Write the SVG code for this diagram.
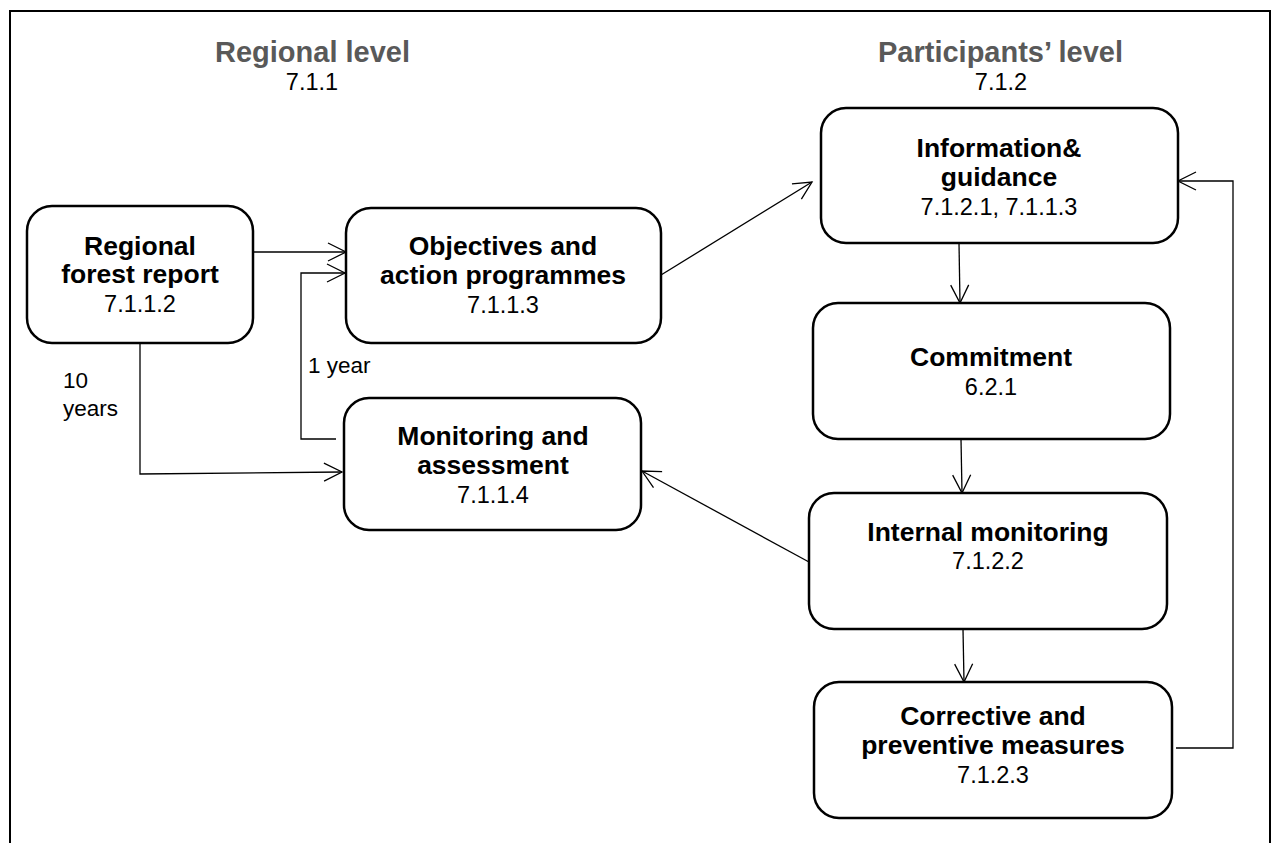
<svg xmlns="http://www.w3.org/2000/svg" width="1277" height="843" viewBox="0 0 1277 843">
  <style>
    .box { fill: #ffffff; stroke: #000000; stroke-width: 2.5; }
    .t { font-family: "Liberation Sans", Arial, sans-serif; font-size: 26.5px; font-weight: bold; fill: #000000; text-anchor: middle; }
    .n { font-family: "Liberation Sans", Arial, sans-serif; font-size: 23.5px; fill: #000000; text-anchor: middle; }
    .hd { font-family: "Liberation Sans", Arial, sans-serif; font-size: 29px; font-weight: bold; fill: #595959; text-anchor: middle; }
    .lbl { font-family: "Liberation Sans", Arial, sans-serif; font-size: 22.5px; fill: #000000; }
    .c { fill: none; stroke: #000000; stroke-width: 1.3; marker-end: url(#arr); }
  </style>
  <defs>
    <marker id="arr" viewBox="-20 -12 22 24" refX="0" refY="0" markerWidth="22" markerHeight="24" markerUnits="userSpaceOnUse" orient="auto">
      <path d="M-18,-9 L0,0 L-18,9" fill="none" stroke="#000000" stroke-width="1.3"/>
    </marker>
  </defs>
  <rect width="1277" height="843" fill="#ffffff"/>
  <path d="M10,843 V11 H1270 V843" fill="none" stroke="#000000" stroke-width="2"/>

  <g id="headers">
    <text class="hd" x="312.5" y="62">Regional level</text>
    <text class="n" x="312" y="90">7.1.1</text>
    <text class="hd" x="1000.5" y="62">Participants’ level</text>
    <text class="n" x="1001" y="90">7.1.2</text>
  </g>

  <g id="connectors">
    <path class="c" d="M253,252 H346"/>
    <path class="c" d="M336,439 H301 V273 H345"/>
    <path class="c" d="M140,343 V474 L342,472"/>
    <path class="c" d="M661,275 L812,182"/>
    <path class="c" d="M959,243 L960,303"/>
    <path class="c" d="M961,439 L962,493"/>
    <path class="c" d="M963,629 L964,682"/>
    <path class="c" d="M809,562 L642,471"/>
    <path class="c" d="M1176,748 H1233 V181 H1178" stroke="#333333"/>
    <text class="lbl" x="63" y="388">10</text>
    <text class="lbl" x="63" y="416">years</text>
    <text class="lbl" x="308" y="373">1 year</text>
  </g>

  <g id="regional-forest-report">
    <rect class="box" x="27" y="206" width="226" height="137" rx="25"/>
    <text class="t" x="140" y="255">Regional</text>
    <text class="t" x="140" y="283">forest report</text>
    <text class="n" x="140" y="312">7.1.1.2</text>
  </g>

  <g id="objectives">
    <rect class="box" x="346" y="208" width="315" height="135" rx="25"/>
    <text class="t" x="503" y="255">Objectives and</text>
    <text class="t" x="503" y="284">action programmes</text>
    <text class="n" x="503" y="313">7.1.1.3</text>
  </g>

  <g id="monitoring">
    <rect class="box" x="344" y="398" width="297" height="132" rx="25"/>
    <text class="t" x="493" y="445">Monitoring and</text>
    <text class="t" x="493" y="474">assessment</text>
    <text class="n" x="493" y="503">7.1.1.4</text>
  </g>

  <g id="information">
    <rect class="box" x="821" y="108" width="357" height="135" rx="25"/>
    <text class="t" x="999" y="157">Information&amp;</text>
    <text class="t" x="999" y="186">guidance</text>
    <text class="n" x="999" y="215">7.1.2.1, 7.1.1.3</text>
  </g>

  <g id="commitment">
    <rect class="box" x="813" y="303" width="357" height="136" rx="25"/>
    <text class="t" x="991" y="366">Commitment</text>
    <text class="n" x="991" y="395">6.2.1</text>
  </g>

  <g id="internal-monitoring">
    <rect class="box" x="809" y="493" width="358" height="136" rx="25"/>
    <text class="t" x="988" y="541">Internal monitoring</text>
    <text class="n" x="988" y="569">7.1.2.2</text>
  </g>

  <g id="corrective">
    <rect class="box" x="814" y="682" width="358" height="136" rx="25"/>
    <text class="t" x="993" y="725">Corrective and</text>
    <text class="t" x="993" y="754">preventive measures</text>
    <text class="n" x="993" y="783">7.1.2.3</text>
  </g>
</svg>
